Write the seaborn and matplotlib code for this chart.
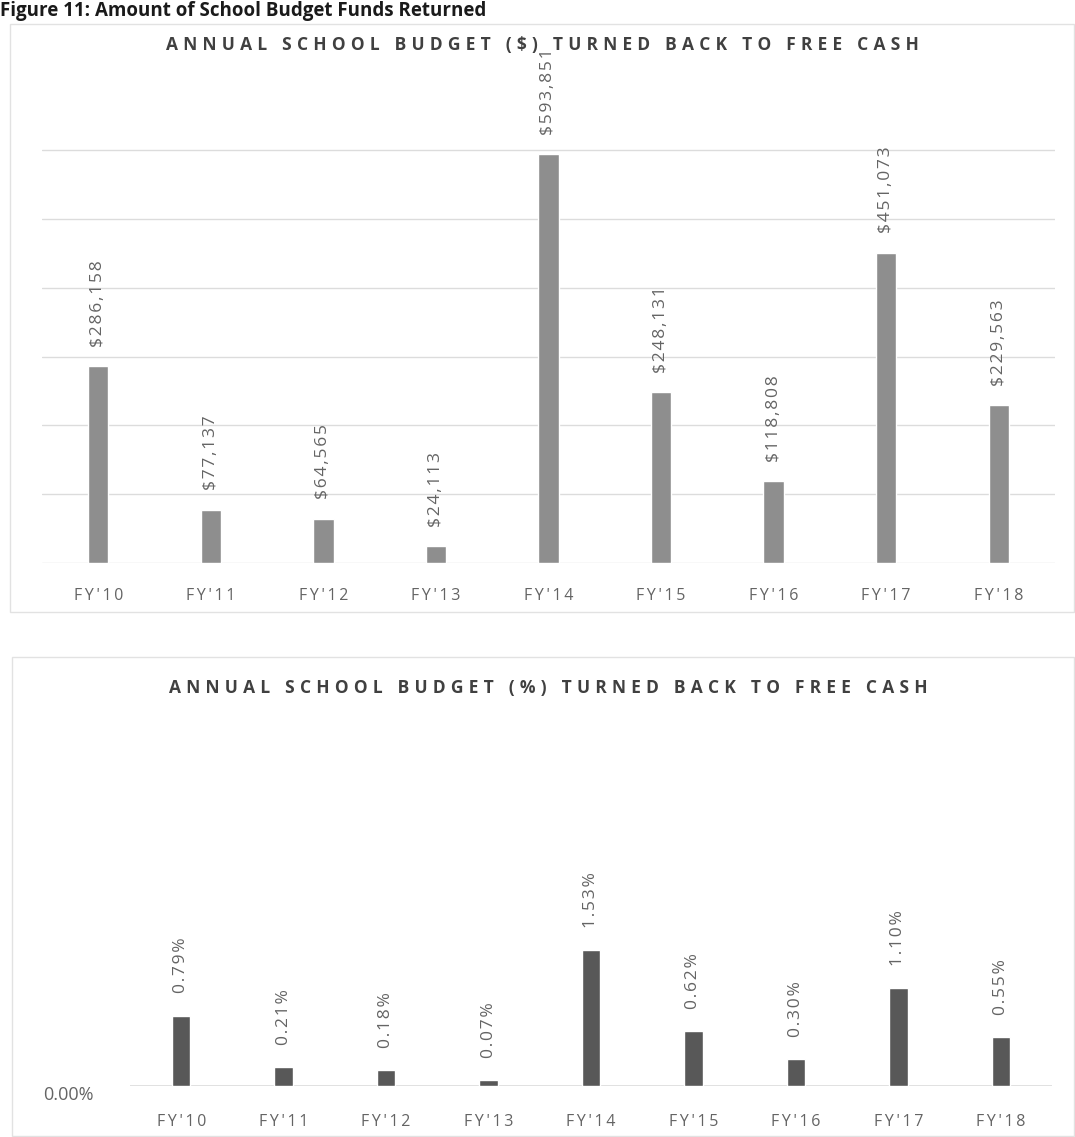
import matplotlib
matplotlib.use("Agg")
import matplotlib.pyplot as plt
from matplotlib.patches import Rectangle
import seaborn as sns
import pandas as pd

# Fiscal years and amounts turned back to free cash
years = ["FY'10", "FY'11", "FY'12", "FY'13", "FY'14", "FY'15", "FY'16", "FY'17", "FY'18"]
dollars = [286158, 77137, 64565, 24113, 593851, 248131, 118808, 451073, 229563]
percents = [0.79, 0.21, 0.18, 0.07, 1.53, 0.62, 0.30, 1.10, 0.55]

sns.set_theme(style="white")
plt.rcParams["font.family"] = ["Open Sans", "DejaVu Sans"]


def spaced(s, gap="\u2009"):
    """Insert narrow spaces between letters to imitate character tracking."""
    return gap.join(s)


W, H = 1075, 1137
fig = plt.figure(figsize=(W / 100, H / 100), dpi=100)
fig.patch.set_facecolor("white")


def fx(px):
    return px / W


def fy(py):
    return 1 - py / H


# Panel frames
for (x0, y0, x1, y1) in [(10, 24, 1074, 612), (12, 657, 1074, 1136)]:
    fig.add_artist(Rectangle((fx(x0), fy(y1)), fx(x1) - fx(x0), fy(y0) - fy(y1),
                             transform=fig.transFigure, fill=False,
                             edgecolor="#e2e2e2", linewidth=1.0))

# Document heading
fig.text(fx(0), fy(16), "Figure 11: Amount of School Budget Funds Returned",
         fontsize=13.5, fontweight="bold", color="#1a1a1a", ha="left", va="baseline")

label_color = "#646464"
grid_color = "#dcdcdc"
title_gap = "\u2009\u200a"

# ---- Dollar chart ----
ax1 = fig.add_axes([fx(42), fy(563), fx(1055) - fx(42), fy(67.6) - fy(563)])
df1 = pd.DataFrame({"year": years, "amount": dollars})
sns.barplot(data=df1, x="year", y="amount", color="#8e8e8e", width=0.18,
            saturation=1, ax=ax1)
ax1.set_ylim(0, 720000)
ax1.set_yticks(range(0, 700000, 100000))
ax1.set_yticklabels([])
ax1.yaxis.grid(True, color=grid_color, linewidth=1.0)
ax1.set_axisbelow(True)
for s in ax1.spines.values():
    s.set_visible(False)
ax1.tick_params(axis="both", length=0)
ax1.tick_params(axis="x", pad=18)
ax1.set_xticks(range(len(years)))
ax1.set_xticklabels([spaced(y) for y in years], fontsize=11.5, color=label_color)
ax1.set_xlabel("")
ax1.set_ylabel("")
ax1.bar_label(ax1.containers[0], labels=[spaced(f"${v:,.0f}", "\u200a") for v in dollars],
              rotation=90, padding=14, fontsize=12.5, color=label_color)

fig.text(fx(542), fy(45), spaced("ANNUAL SCHOOL BUDGET ($) TURNED BACK TO FREE CASH", title_gap),
         fontsize=12.5, fontweight="bold", color="#404040", ha="center", va="center")

# ---- Percent chart ----
ax2 = fig.add_axes([fx(130), fy(1086), fx(1052) - fx(130), fy(730) - fy(1086)])
df2 = pd.DataFrame({"year": years, "pct": percents})
sns.barplot(data=df2, x="year", y="pct", color="#585858", width=0.18,
            saturation=1, ax=ax2)
ax2.set_ylim(0, 4.0)
ax2.set_yticks([0])
ax2.set_yticklabels(["0.00%"], fontsize=13, color=label_color, va="top")
ax2.axhline(0, color=grid_color, linewidth=1.2, zorder=0)
for s in ax2.spines.values():
    s.set_visible(False)
ax2.tick_params(axis="both", length=0)
ax2.tick_params(axis="x", pad=20)
ax2.tick_params(axis="y", pad=26)
ax2.set_xticks(range(len(years)))
ax2.set_xticklabels([spaced(y) for y in years], fontsize=11.5, color=label_color)
ax2.set_xlabel("")
ax2.set_ylabel("")
ax2.bar_label(ax2.containers[0], labels=[spaced(f"{v:.2f}%", "\u200a") for v in percents],
              rotation=90, padding=16, fontsize=12.5, color=label_color)

fig.text(fx(548), fy(688), spaced("ANNUAL SCHOOL BUDGET (%) TURNED BACK TO FREE CASH", title_gap),
         fontsize=12.5, fontweight="bold", color="#404040", ha="center", va="center")

fig.savefig("out.png", dpi=100, facecolor="white")
